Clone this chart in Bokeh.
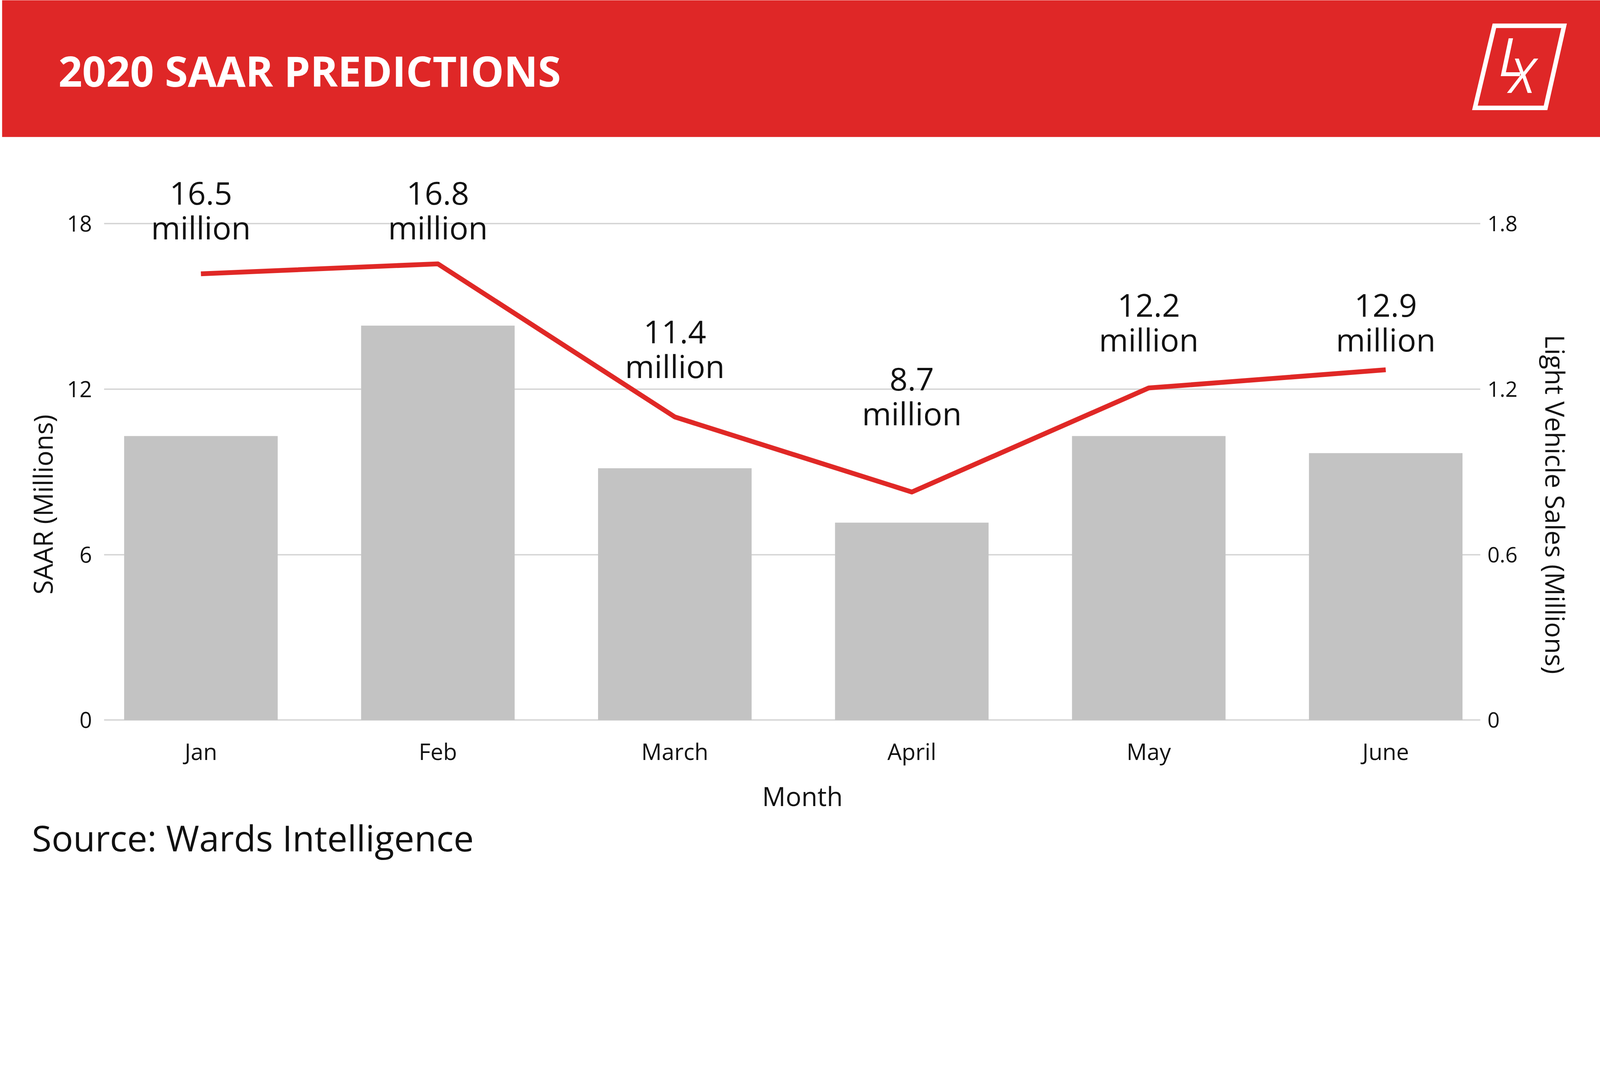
from math import pi

from bokeh.core.properties import value
from bokeh.embed import file_html
from bokeh.resources import INLINE
from bokeh.plotting import figure
from bokeh.models import (
    ColumnDataSource,
    Range1d,
    LinearAxis,
    FixedTicker,
    Grid,
    Label,
    LabelSet,
)

# data
months = ["Jan", "Feb", "March", "April", "May", "June"]
saar = [16.18, 16.54, 10.99, 8.27, 12.04, 12.70]        # line, left axis (millions)
sales = [1.03, 1.43, 0.913, 0.716, 1.03, 0.968]        # bars, right axis (millions)
saar_labels = ["16.5", "16.8", "11.4", "8.7", "12.2", "12.9"]
label_lift = [106, 75, 121, 208, 113, 56]               # px from point to label baseline, moved by hand

FONT = "Open Sans"
RED = "#df2727"
INK = "#111111"

# the page is shown zoomed, so sizes are worked out in screenshot pixels and scaled
S = 4096 / 5006
W, H = 4096, 2231
DESC = 0.28    # labels sit on the bottom of their text box, which is below the baseline


def px(n):
    return n * S


# screenshot pixel -> data units (month index / SAAR millions)
def dx(X):
    return (X - 628) / 741.4


def dy(Y):
    return (2253 - Y) / 86.33


def base(Y, size):
    # y for a text whose baseline should sit at screenshot row Y
    return dy(Y + DESC * size)


x0, x1 = dx(0), dx(W / S)
y0, y1 = dy(H / S), dy(0)

p = figure(width=W, height=H, x_range=Range1d(x0, x1), y_range=Range1d(y0, y1),
           output_backend="svg", toolbar_location=None,
           x_axis_location=None, y_axis_location=None, min_border=0)
p.min_border_left = p.min_border_right = p.min_border_top = p.min_border_bottom = 0
p.outline_line_color = None
p.xgrid.grid_line_color = None
p.ygrid.grid_line_color = None
p.extra_y_ranges = {"sales": Range1d(y0 / 10, y1 / 10)}

# header band with title and logo
p.quad(left=dx(6), right=x1, bottom=dy(428), top=y1, fill_color=RED, line_color=None)
p.add_layout(Label(x=dx(182), y=base(272, 131), text="2020 SAAR PREDICTIONS",
                   text_color="white", text_font=FONT, text_font_size="%dpx" % px(131),
                   text_font_style="bold"))
p.patch([dx(4675), dx(4893), dx(4835), dx(4614)], [dy(80), dy(80), dy(337), dy(337)],
        fill_alpha=0, line_color="white", line_width=px(14), line_join="miter")
p.add_layout(Label(x=dx(4688), y=base(240, 165), text="L", text_color="white",
                   text_font=FONT, text_font_size="%dpx" % px(165), text_font_style="italic"))
p.add_layout(Label(x=dx(4722), y=base(292, 150), text="X", text_color="white",
                   text_font=FONT, text_font_size="%dpx" % px(150), text_font_style="italic"))

# grid only across the plot area, axes pinned to its edges
grid_left, grid_right = dx(325), dx(4631)
p.add_layout(Grid(dimension=1, ticker=FixedTicker(ticks=[0, 6, 12, 18]),
                  cross_bounds=(grid_left, grid_right),
                  grid_line_color="#d4d4d4", grid_line_width=px(4)))

idx = list(range(len(months)))
yl = LinearAxis(ticker=FixedTicker(ticks=[0, 6, 12, 18]), fixed_location=grid_left,
                major_label_standoff=int(px(38)))
yr = LinearAxis(y_range_name="sales", ticker=FixedTicker(ticks=[0, 0.6, 1.2, 1.8]),
                fixed_location=grid_right,
                major_label_overrides={0: "0", 0.6: "0.6", 1.2: "1.2", 1.8: "1.8"},
                major_label_standoff=int(px(22)))
xb = LinearAxis(ticker=FixedTicker(ticks=idx), fixed_location=0,
                major_label_overrides={i: m for i, m in zip(idx, months)},
                major_label_standoff=int(px(49)))
p.add_layout(yl, "left")
p.add_layout(yr, "right")
p.add_layout(xb, "below")

for ax, size in ((yl, 69), (yr, 68), (xb, 72)):
    ax.axis_line_color = None
    ax.major_tick_line_color = None
    ax.minor_tick_line_color = None
    ax.major_tick_out = 0
    ax.major_tick_in = 0
    ax.major_label_text_font = FONT
    ax.major_label_text_font_size = "%dpx" % px(size)
    ax.major_label_text_color = INK

# bars and line
LBL = 100
src = ColumnDataSource(data=dict(
    x=idx, saar=saar, sales=sales, num=saar_labels, unit=["million"] * len(idx),
    lift_unit=[px(v - DESC * LBL) for v in label_lift],
    lift_num=[px(v + 138 - DESC * LBL) for v in label_lift],
))
p.vbar(x="x", top="sales", width=0.648, source=src, y_range_name="sales",
       fill_color="#c3c3c3", line_color=None)
p.line(x="x", y="saar", source=src, line_color="#e02826", line_width=px(15),
       line_join="round")

label_style = dict(source=src, text_align="center", text_font=value(FONT),
                   text_font_size="%dpx" % px(LBL), text_color=INK)
p.add_layout(LabelSet(x="x", y="saar", text="num", y_offset="lift_num", **label_style))
p.add_layout(LabelSet(x="x", y="saar", text="unit", y_offset="lift_unit", **label_style))

# axis titles and source note
title_style = dict(text_font=FONT, text_font_size="%dpx" % px(83), text_color=INK)
p.add_layout(Label(x=dx(133), y=dy(1578), text="SAAR (Millions)", angle=pi / 2,
                   text_align="center", text_baseline="middle", **title_style))
p.add_layout(Label(x=dx(4866), y=dy(1578), text="Light Vehicle Sales (Millions)",
                   angle=-pi / 2, text_align="center", text_baseline="middle", **title_style))
p.add_layout(Label(x=dx(2510), y=base(2523, 83), text="Month", text_align="center",
                   **title_style))
p.add_layout(Label(x=dx(99), y=base(2665, 113), text="Source: Wards Intelligence",
                   text_font=FONT, text_font_size="%dpx" % px(113), text_color=INK))

open("out.html", "w").write(file_html(p, INLINE))
